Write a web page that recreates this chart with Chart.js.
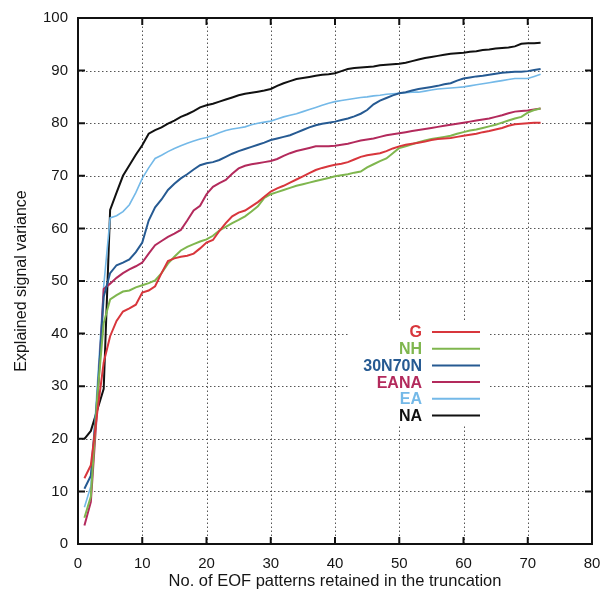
<!DOCTYPE html>
<html>
<head>
<meta charset="utf-8">
<script src="https://cdn.jsdelivr.net/npm/chart.js@4/dist/chart.umd.min.js"></script>
<style>
  html, body { margin: 0; padding: 0; background: #fff; }
  #wrap { width: 605px; height: 597px; }
</style>
</head>
<body>
<div id="wrap"><canvas id="eofChart" width="605" height="597"></canvas></div>
<script>
// number of EOF patterns kept
const nPatterns = [1,2,3,4,5,6,7,8,9,10,11,12,13,14,15,16,17,18,19,20,21,22,23,24,
  25,26,27,28,29,30,31,32,33,34,35,36,37,38,39,40,41,42,43,44,45,46,47,48,
  49,50,51,52,53,54,55,56,57,58,59,60,61,62,63,64,65,66,67,68,69,70,71,72];

const gVals = [12.5,15,25,34.5,39.5,42.4,44.2,44.8,45.5,47.8,48.2,49,51.5,53.8,54.3,54.6,54.8,55.2,56.2,57.3,57.8,59.5,61,62.3,
  63,63.4,64.2,65,66,67,67.6,68.1,68.7,69.3,69.9,70.5,71.1,71.5,71.8,72.1,72.3,72.6,73.1,73.6,73.9,74.1,74.3,74.7,
  75.2,75.6,75.9,76.1,76.3,76.5,76.8,77,77.1,77.2,77.4,77.6,77.8,78,78.3,78.5,78.8,79.1,79.5,79.8,79.9,80,80.1,80.1];

const nhVals = [5,9,28,42,46.5,47.3,48,48.2,48.8,49.2,49.6,50.1,51.5,53.3,54.6,55.8,56.5,57,57.5,57.9,58.6,59.6,60.3,61,
  61.6,62.3,63.2,64.2,65.8,66.5,66.9,67.3,67.7,68.1,68.4,68.7,69,69.3,69.6,69.9,70.1,70.3,70.6,70.8,71.6,72.2,72.8,73.3,
  74.3,75.3,75.6,76,76.4,76.7,77,77.2,77.4,77.6,78,78.3,78.6,78.8,79.1,79.4,79.7,80.1,80.5,80.9,81.2,82,82.5,82.8];

const n3070Vals = [10.5,13,28,47,51.5,53,53.5,54.1,55.5,57.3,61.5,64,65.5,67.3,68.5,69.5,70.3,71.2,72,72.4,72.6,73,73.6,74.2,
  74.7,75.1,75.5,75.9,76.3,76.8,77.1,77.4,77.7,78.2,78.7,79.2,79.6,79.9,80.1,80.3,80.6,80.9,81.3,81.8,82.5,83.6,84.3,84.8,
  85.3,85.7,85.9,86.2,86.5,86.7,86.9,87.1,87.4,87.6,88.1,88.5,88.7,88.9,89,89.2,89.4,89.6,89.7,89.8,89.8,89.9,90.1,90.3];

const eanaVals = [3.5,8,26,48.5,49.5,50.6,51.5,52.2,52.8,53.5,55.2,56.8,57.6,58.4,59,59.7,61.5,63.4,64.3,66.5,67.9,68.6,69.2,70.4,
  71.4,71.9,72.2,72.4,72.6,72.8,73.2,73.8,74.3,74.7,75,75.3,75.6,75.6,75.6,75.7,75.9,76.1,76.4,76.7,76.9,77.1,77.4,77.7,
  77.9,78.1,78.3,78.5,78.7,78.9,79.1,79.3,79.5,79.7,79.9,80.1,80.3,80.5,80.7,80.9,81.2,81.5,81.9,82.2,82.3,82.4,82.6,82.8];

const eaVals = [7,11,30,49,62,62.4,63.2,64.5,66.8,69.5,71.5,73.3,73.9,74.6,75.2,75.7,76.2,76.6,77,77.3,77.7,78.2,78.6,78.9,
  79.1,79.3,79.7,80,80.2,80.4,80.8,81.2,81.5,81.8,82.2,82.6,83,83.4,83.8,84.1,84.3,84.5,84.7,84.9,85,85.2,85.3,85.5,
  85.6,85.7,85.8,85.9,85.9,86.1,86.3,86.5,86.6,86.7,86.8,86.9,87.1,87.3,87.5,87.7,87.9,88.1,88.3,88.5,88.5,88.5,88.9,89.3];

const naVals = [20,21.5,25.5,29.5,63.5,66.8,70,72,74,75.8,78,78.7,79.2,79.9,80.5,81.2,81.7,82.3,83,83.4,83.7,84.1,84.5,84.9,
  85.3,85.6,85.8,86,86.2,86.5,87.1,87.6,88,88.4,88.6,88.8,89,89.2,89.3,89.5,89.9,90.3,90.5,90.6,90.7,90.8,91,91.1,
  91.2,91.3,91.5,91.8,92.1,92.4,92.6,92.8,93,93.2,93.3,93.4,93.6,93.7,93.9,94,94.2,94.3,94.4,94.6,95.1,95.2,95.2,95.3];

const seriesNames = ['G', 'NH', '30N70N', 'EANA', 'EA', 'NA'];
const seriesColors = ['#d8363c', '#7fb64e', '#265a92', '#b32a5c', '#74b9e8', '#111111'];
const seriesData = [gVals, nhVals, n3070Vals, eanaVals, eaVals, naVals];

const font = '"Liberation Sans", Arial, sans-serif';

// gnuplot style: dotted grid, frame, inner ticks and an opaque key
const gnuplotBits = {
  id: 'gnuplotBits',
  beforeDatasetsDraw(chart) {
    const ctx = chart.ctx;
    const a = chart.chartArea;
    const xs = chart.scales.x, ys = chart.scales.y;
    ctx.save();
    ctx.strokeStyle = '#555';
    ctx.lineWidth = 1;
    ctx.setLineDash([1.5, 2.5]);
    ctx.beginPath();
    xs.ticks.forEach(t => {
      if (t.value <= xs.min || t.value >= xs.max) return;
      const px = Math.round(xs.getPixelForValue(t.value)) + 0.5;
      ctx.moveTo(px, a.bottom); ctx.lineTo(px, a.top);
    });
    ys.ticks.forEach(t => {
      if (t.value <= ys.min || t.value >= ys.max) return;
      const py = Math.round(ys.getPixelForValue(t.value)) + 0.5;
      ctx.moveTo(a.left, py); ctx.lineTo(a.right, py);
    });
    ctx.stroke();
    ctx.setLineDash([]);
    ctx.fillStyle = '#fff';
    ctx.fillRect(350, 322, 138, 103);
    ctx.restore();
  },
  afterDraw(chart) {
    const ctx = chart.ctx;
    const a = chart.chartArea;
    const xs = chart.scales.x, ys = chart.scales.y;
    ctx.save();
    ctx.strokeStyle = '#111';
    ctx.lineWidth = 2;
    ctx.strokeRect(a.left, a.top, a.right - a.left, a.bottom - a.top);
    ctx.beginPath();
    xs.ticks.forEach(t => {
      const px = xs.getPixelForValue(t.value);
      ctx.moveTo(px, a.bottom); ctx.lineTo(px, a.bottom - 7);
      ctx.moveTo(px, a.top); ctx.lineTo(px, a.top + 7);
    });
    ys.ticks.forEach(t => {
      const py = ys.getPixelForValue(t.value);
      ctx.moveTo(a.left, py); ctx.lineTo(a.left + 7, py);
      ctx.moveTo(a.right, py); ctx.lineTo(a.right - 7, py);
    });
    ctx.stroke();

    // key
    ctx.font = 'bold 16px ' + font;
    ctx.textAlign = 'right';
    ctx.textBaseline = 'middle';
    seriesNames.forEach((name, i) => {
      const y = 332 + i * 16.7;
      ctx.fillStyle = seriesColors[i];
      ctx.fillText(name, 422, y + 1);
      ctx.strokeStyle = seriesColors[i];
      ctx.lineWidth = 2;
      ctx.beginPath();
      ctx.moveTo(432, y); ctx.lineTo(480, y);
      ctx.stroke();
    });
    ctx.restore();
  }
};

new Chart(document.getElementById('eofChart'), {
  type: 'line',
  data: {
    labels: nPatterns,
    datasets: seriesNames.map((name, i) => ({
      label: name,
      data: seriesData[i],
      borderColor: seriesColors[i],
      borderWidth: i === 4 ? 1.6 : 2,
      pointRadius: 0,
      tension: 0,
      fill: false
    }))
  },
  options: {
    responsive: false,
    animation: false,
    layout: { padding: { left: 0, top: 18, right: 13, bottom: 0 } },
    plugins: { legend: { display: false }, tooltip: { enabled: false } },
    scales: {
      x: {
        type: 'linear',
        min: 0, max: 80,
        afterFit: s => { s.height = 53; },
        ticks: { stepSize: 10, color: '#151515', padding: 3, font: { family: font, size: 15 } },
        grid: { display: false },
        border: { display: false },
        title: { display: true, text: 'No. of EOF patterns retained in the truncation', color: '#151515',
          padding: { top: 0, bottom: 6 }, font: { family: font, size: 16.5 } }
      },
      y: {
        min: 0, max: 100,
        afterFit: s => { s.width = 78; },
        ticks: { stepSize: 10, color: '#151515', padding: 2, font: { family: font, size: 15 } },
        grid: { display: false },
        border: { display: false },
        title: { display: true, text: 'Explained signal variance', color: '#151515',
          padding: { top: 12, bottom: 0 }, font: { family: font, size: 16 } }
      }
    }
  },
  plugins: [gnuplotBits]
});
</script>
</body>
</html>
